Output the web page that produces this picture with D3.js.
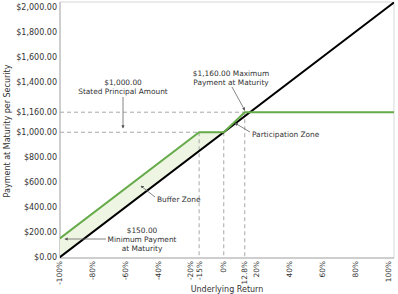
<!DOCTYPE html>
<html>
<head>
<meta charset="utf-8">
<script src="https://cdn.jsdelivr.net/npm/d3@7"></script>
<style>
  body { margin: 0; background: #fff; }
  svg text { font-family: "DejaVu Sans", Verdana, sans-serif; font-size: 8px; fill: #333; }
  svg text.small { font-size: 7.4px; }
</style>
</head>
<body>
<div id="chart"></div>
<script>
// underlying return (%) and payment ($) series
var underlyingReturns = [-100, 100];
var underlyingPayments = [0, 2000];
var noteReturns = [-100, -15, 0, 12.8];
var notePayments = [150, 1000, 1000, 1160];
var bufferReturns = [-100, -15, 0];
var bufferUpper = [150, 1000, 1000];
var bufferLower = [0, 850, 1000];

var xTicks = [-100, -80, -60, -40, -20, -15, 0, 12.8, 20, 40, 60, 80, 100];
var yTicks = [0, 200, 400, 600, 800, 1000, 1160, 1400, 1600, 1800, 2000];

var width = 398, height = 294;
var frame = { left: 60, right: 394, top: 2, bottom: 258 };

var x = d3.scaleLinear().domain([-100, 100]).range([59.5, 388]);
var y = d3.scaleLinear().domain([0, 2000]).range([257.5, 7]);

var money = d3.format("$,.2f");
var pct = function (d) { return d + "%"; };

var svg = d3.select("#chart").append("svg")
	.attr("width", width)
	.attr("height", height);

var defs = svg.append("defs");
defs.append("clipPath").attr("id", "plotclip")
	.append("rect")
	.attr("x", frame.left).attr("y", frame.top)
	.attr("width", frame.right - frame.left)
	.attr("height", frame.bottom - frame.top);

defs.append("marker")
	.attr("id", "arr")
	.attr("viewBox", "0 0 6 6")
	.attr("refX", 5).attr("refY", 3)
	.attr("markerWidth", 4).attr("markerHeight", 4)
	.attr("orient", "auto")
	.append("path").attr("d", "M0,0L6,3L0,6Z").attr("fill", "#555");

// frame
svg.append("rect")
	.attr("x", frame.left).attr("y", frame.top)
	.attr("width", frame.right - frame.left)
	.attr("height", frame.bottom - frame.top)
	.attr("fill", "none")
	.attr("stroke", "#d8d8d8");
svg.append("line")
	.attr("x1", frame.left).attr("x2", frame.left)
	.attr("y1", frame.top).attr("y2", frame.bottom)
	.attr("stroke", "#c4c4c4").attr("stroke-width", 1.5);
svg.append("line")
	.attr("x1", frame.left).attr("x2", frame.right)
	.attr("y1", frame.bottom).attr("y2", frame.bottom)
	.attr("stroke", "#c4c4c4").attr("stroke-width", 1.5);

// y axis labels
svg.selectAll(".ylab").data(yTicks).enter().append("text")
	.attr("class", "ylab")
	.attr("x", 57)
	.attr("y", function (d) { return y(d); })
	.attr("dy", "0.35em")
	.attr("text-anchor", "end")
	.text(money);

// x axis labels (rotated)
svg.selectAll(".xlab").data(xTicks).enter().append("text")
	.attr("class", "xlab small")
	.attr("transform", function (d) { return "translate(" + x(d) + "," + (frame.bottom + 3) + ") rotate(-90)"; })
	.attr("dy", "0.35em")
	.attr("text-anchor", "end")
	.text(pct);

svg.append("text")
	.attr("x", 227).attr("y", 292)
	.attr("text-anchor", "middle")
	.text("Underlying Return");

svg.append("text")
	.attr("transform", "translate(10,131) rotate(-90)")
	.attr("text-anchor", "middle")
	.text("Payment at Maturity per Security");

var plot = svg.append("g").attr("clip-path", "url(#plotclip)");

// buffer fill
var area = d3.area()
	.x(function (d, i) { return x(bufferReturns[i]); })
	.y0(function (d, i) { return y(bufferLower[i]); })
	.y1(function (d, i) { return y(bufferUpper[i]); });
plot.append("path")
	.datum(bufferReturns)
	.attr("d", area)
	.attr("fill", "#eef5e2");

// dashed reference lines
var guides = [
	[x.invert(frame.left), 1000, -15, 1000],
	[x.invert(frame.left), 1160, 12.8, 1160],
	[-15, 1000, -15, 0],
	[0, 1000, 0, 0],
	[12.8, 1160, 12.8, 0]
];
plot.selectAll(".guide").data(guides).enter().append("line")
	.attr("x1", function (d) { return x(d[0]); })
	.attr("y1", function (d) { return y(d[1]); })
	.attr("x2", function (d) { return x(d[2]); })
	.attr("y2", function (d) { return y(d[3]); })
	.attr("stroke", "#a8a8a8")
	.attr("stroke-dasharray", "4,3");

// underlying (black) line, extended to the frame edge
var rightR = x.invert(frame.right);
var slope = (underlyingPayments[1] - underlyingPayments[0]) / (underlyingReturns[1] - underlyingReturns[0]);
var blackPts = underlyingReturns.map(function (r, i) { return [r, underlyingPayments[i]]; });
blackPts.push([rightR, underlyingPayments[1] + slope * (rightR - underlyingReturns[1])]);
var line = d3.line()
	.x(function (d) { return x(d[0]); })
	.y(function (d) { return y(d[1]); });
plot.append("path")
	.datum(blackPts)
	.attr("d", line)
	.attr("fill", "none")
	.attr("stroke", "#000")
	.attr("stroke-width", 2);

// note payoff (green)
var greenPts = noteReturns.map(function (r, i) { return [r, notePayments[i]]; });
greenPts.push([rightR, notePayments[notePayments.length - 1]]);
plot.append("path")
	.datum(greenPts)
	.attr("d", line)
	.attr("fill", "none")
	.attr("stroke", "#66ab4a")
	.attr("stroke-width", 2);

// annotations
function note(lines, cx, cy) {
	lines.forEach(function (t, i) {
		svg.append("text")
			.attr("class", "small")
			.attr("x", cx).attr("y", cy + i * 9)
			.attr("text-anchor", "middle")
			.text(t);
	});
}
function pointer(x1, y1, x2, y2) {
	svg.append("line")
		.attr("x1", x1).attr("y1", y1).attr("x2", x2).attr("y2", y2)
		.attr("stroke", "#666").attr("stroke-width", 0.8)
		.attr("marker-end", "url(#arr)");
}

note(["$1,000.00", "Stated Principal Amount"], 123, 85);
pointer(123, 97, 123, 128);

note(["$1,160.00 Maximum", "Payment at Maturity"], 231, 76);
pointer(232, 87, x(12.8), y(1160) - 2);

svg.append("text").attr("class", "small").attr("x", 252).attr("y", 137).text("Participation Zone");
pointer(250, 132, x(7), y(1000 + 7 * 12.5) + 2);

svg.append("text").attr("class", "small").attr("x", 157).attr("y", 202).text("Buffer Zone");
pointer(155, 197, 141, 186);

note(["$150.00", "Minimum Payment", "at Maturity"], 142, 233);
pointer(106, 239, 65, 239);
</script>
</body>
</html>
